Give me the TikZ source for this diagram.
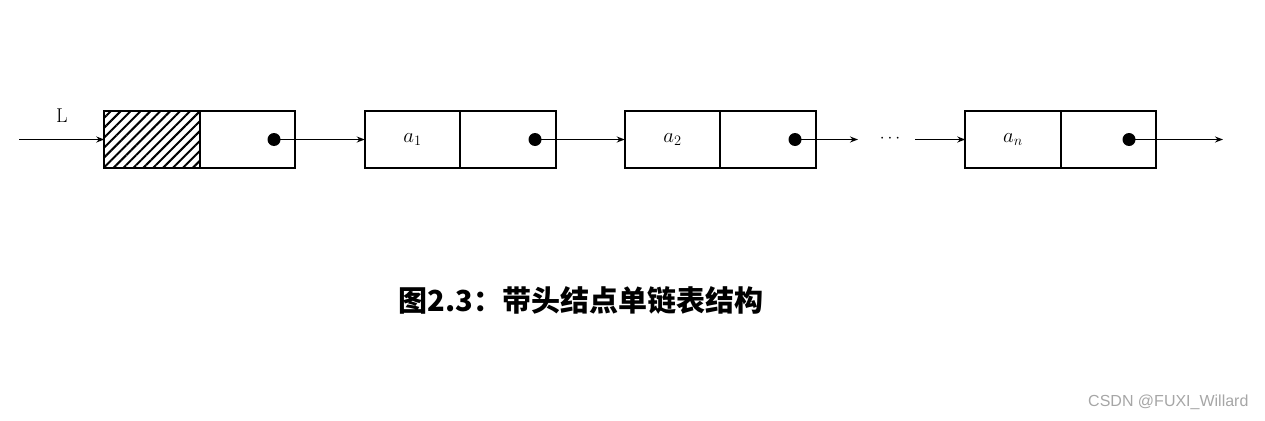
\documentclass[tikz,border=0pt]{standalone}
\usepackage{fontspec}
\newfontfamily\cjk{Noto Sans CJK SC}
\newfontfamily\sans{Liberation Sans}
\usetikzlibrary{patterns.meta,arrows.meta}
\begin{document}
\begin{tikzpicture}[x=1pt,y=-1pt,
  cell/.style={draw,line width=1.6pt,minimum width=95.5pt,minimum height=57pt,inner sep=0pt,outer sep=0pt},
  ptr/.style={line width=1.3pt,-{Stealth[length=8pt,width=6pt]}},
  dotm/.style={circle,fill,inner sep=0pt,minimum size=13pt}]
\useasboundingbox (0,0) rectangle (1265,420);
\node[cell,pattern={Lines[angle=45,distance=7pt,line width=2pt]}] (h1) at (152,139.5) {};
\node[cell] (h2) at (247.5,139.5) {};
\node[cell] (a1d) at (412.5,139.5) {\fontsize{20}{24}\selectfont$a_1$};
\node[cell] (a1p) at (508,139.5) {};
\node[cell] (a2d) at (672.5,139.5) {\fontsize{20}{24}\selectfont$a_2$};
\node[cell] (a2p) at (768,139.5) {};
\node[cell] (and) at (1013,139.5) {\fontsize{20}{24}\selectfont$a_n$};
\node[cell] (anp) at (1108.5,139.5) {};
\node[dotm] (d0) at (274,139.5) {};
\node[dotm] (d1) at (535,139.5) {};
\node[dotm] (d2) at (795,139.5) {};
\node[dotm] (d3) at (1129,139.5) {};
\coordinate (s) at (19,139.5);
\coordinate (e2) at (858,139.5);
\coordinate (s3) at (915,139.5);
\coordinate (e3) at (1223,139.5);
\node (L) at (62,116) {\fontsize{20}{24}\selectfont L};
\node (dots) at (890,139) {\fontsize{18}{20}\selectfont$\cdots$};
\draw[ptr] (s) -- (h1.west);
\draw[ptr] (d0.center) -- (a1d.west);
\draw[ptr] (d1.center) -- (a2d.west);
\draw[ptr] (d2.center) -- (e2);
\draw[ptr] (s3) -- (and.west);
\draw[ptr] (d3.center) -- (e3);
\node (cap) at (581,300) {\cjk\bfseries\fontsize{29}{34}\selectfont 图2.3：带头结点单链表结构};
\node[text=gray!70,anchor=east] (wm) at (1252,402) {\sans\fontsize{16}{18}\selectfont CSDN @FUXI\_Willard};
\end{tikzpicture}
\end{document}
